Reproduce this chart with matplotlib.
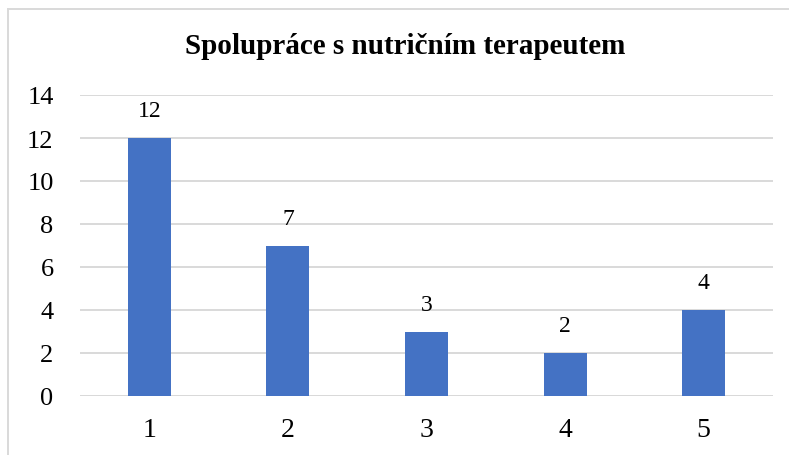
import matplotlib
matplotlib.use("Agg")
import matplotlib.pyplot as plt
from matplotlib.lines import Line2D

categories = ["1", "2", "3", "4", "5"]
values = [12, 7, 3, 2, 4]
yticks = [0, 2, 4, 6, 8, 10, 12, 14]
title = "Spolupráce s nutričním terapeutem"

plt.rcParams['font.family'] = ['Liberation Serif', 'DejaVu Serif']

W, H = 789, 456
fig = plt.figure(figsize=(W / 100, H / 100), dpi=100)
ax = fig.add_axes([80 / W, 1 - 397 / H, (773 - 80) / W, (397 - 96) / H])

x = list(range(len(categories)))
ax.bar(x, values, width=0.31, color="#4472C4", zorder=3)
ax.set_xlim(-0.5, len(categories) - 0.5)
ax.set_ylim(0, 14)
ax.set_yticks(yticks)
ax.set_yticklabels([str(t) for t in yticks], fontsize=19)
ax.set_xticks(x)
ax.set_xticklabels(categories, fontsize=20)
ax.tick_params(axis='y', length=0, pad=19)
ax.tick_params(axis='x', length=0, pad=15)
ax.grid(axis='y', color="#d9d9d9", linewidth=1.4, zorder=0)
for s in ax.spines.values():
    s.set_visible(False)
ax.axhline(0, color="#d9d9d9", linewidth=1.4, zorder=2)

for xi, v in zip(x, values):
    ax.annotate(str(v), (xi, v), xytext=(0, 12), textcoords="offset points",
                ha="center", va="bottom", fontsize=17)

fig.text(405 / W, 1 - 47 / H, title, ha="center", va="center",
         fontsize=21, fontweight="bold")

# outer chart border
fig.add_artist(Line2D([8 / W, 1], [1 - 10 / H, 1 - 10 / H], transform=fig.transFigure,
                      color="#d9d9d9", linewidth=1.4))
fig.add_artist(Line2D([8 / W, 8 / W], [0, 1 - 10 / H], transform=fig.transFigure,
                      color="#d9d9d9", linewidth=1.4))

fig.savefig("out.png", dpi=100)
